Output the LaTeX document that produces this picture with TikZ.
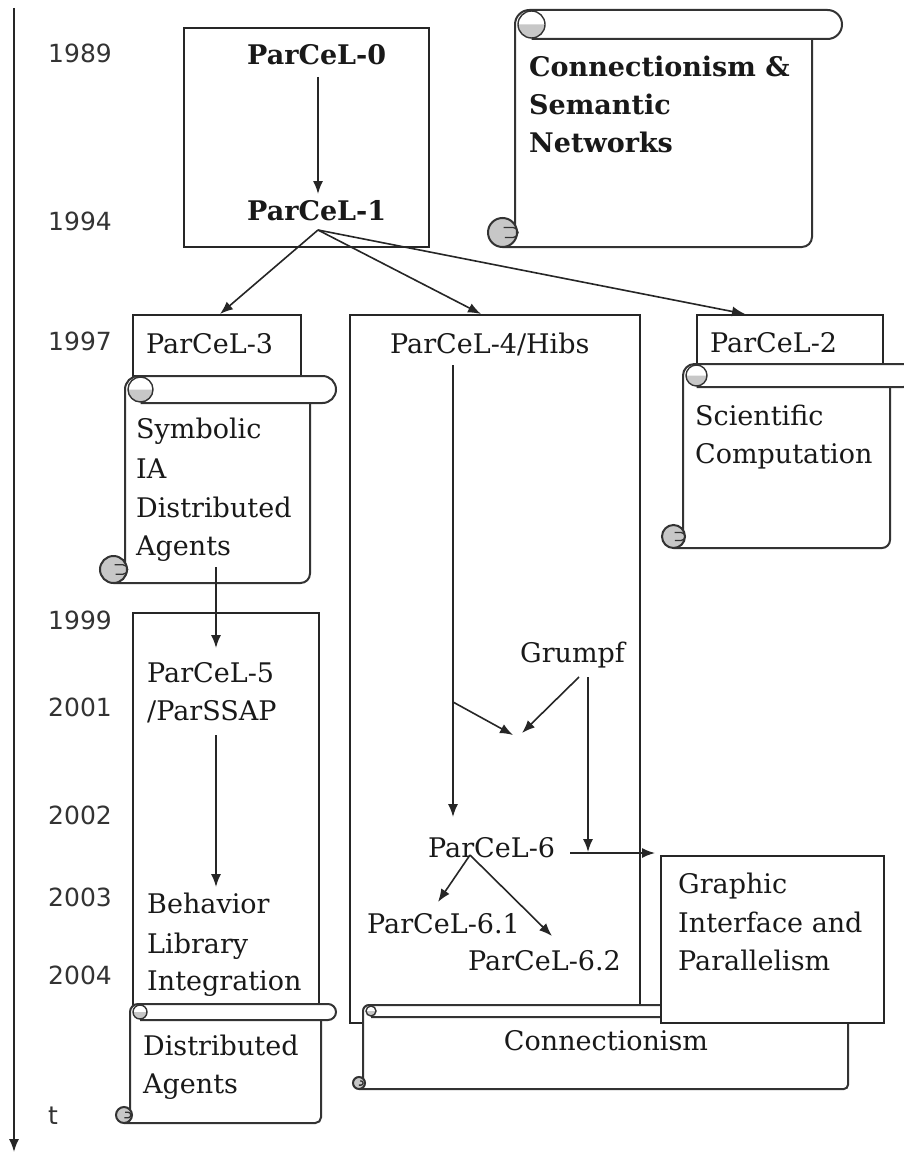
\documentclass[tikz,border=0pt]{standalone}
\usepackage{fontspec}
\setmainfont{DejaVu Serif}
\newfontfamily\yearfont{DejaVu Sans}
\usetikzlibrary{arrows.meta,calc}

\tikzset{
  frame/.style={draw=black!85, line width=1.8pt, fill=white, inner sep=0pt},
  arr/.style={draw=black!85, line width=1.6pt, -{Latex[length=13pt,width=10pt]}},
  lbl/.style={inner sep=0pt, anchor=base west, text=black!90, font=\fontsize{27pt}{39pt}\selectfont},
  lblb/.style={lbl, font=\bfseries\fontsize{27pt}{39pt}\selectfont},
  year/.style={inner sep=0pt, anchor=west, text=black!80, font=\yearfont\fontsize{25pt}{30pt}\selectfont},
  scrl/.style={draw=black!80, line width=2pt},
  curl/.style={fill=black!22},
}

% scroll sheet: #1 left edge, #2 top, #3 right end of the roll, #4 roll height,
% #5 right edge of the sheet, #6 bottom edge
\newcommand{\scrollbox}[6]{%
  \pgfmathsetmacro{\sr}{#4/2}%
  \pgfmathsetmacro{\sk}{0.7*\sr}%
  \pgfmathsetmacro{\sc}{\sr-1}%
  \fill[white] (#1,#2+\sr) rectangle (#5,#6);
  \fill[white, rounded corners=\sr pt] (#1,#2) rectangle (#3,#2+#4);
  \draw[scrl, rounded corners=\sk pt] (#5,#2+#4) -- (#5,#6) -- (#1-\sr+2,#6);
  \draw[scrl, rounded corners=\sr pt] (#1,#6-\sr) -- (#1,#2) -- (#3,#2) -- (#3,#2+#4) -- (#1+\sr+2,#2+#4);
  \fill[curl] (#1+\sr+2+\sc,#2+\sr) arc[start angle=0, end angle=180, radius=\sc] -- cycle;
  \draw[scrl, line width=1.4pt] (#1+\sr+2,#2+\sr) circle[radius=\sc];
  \filldraw[scrl, curl] (#1-\sr+2,#6-\sr) circle[radius=\sr];
  \draw[scrl, line width=1.3pt] (#1-\sr+3,#6-1.35*\sr) -- (#1-2,#6-1.35*\sr)
     arc[start angle=-90, end angle=90, radius=0.35*\sr] -- (#1-0.7*\sr,#6-0.65*\sr);
}

\begin{document}
\begin{tikzpicture}[x=1pt,y=-1pt]
\useasboundingbox (0,0) rectangle (903,1153);
\fill[white] (0,0) rectangle (903,1153);

% time axis
\coordinate (axtop) at (14,8);
\coordinate (axend) at (14,1152);
\draw[arr] (axtop) -- (axend);

% years
\node[year] (y89) at (48,53) {1989};
\node[year] (y94) at (48,221) {1994};
\node[year] (y97) at (48,341) {1997};
\node[year] (y99) at (48,620) {1999};
\node[year] (y01) at (48,707) {2001};
\node[year] (y02) at (48,815) {2002};
\node[year] (y03) at (48,897) {2003};
\node[year] (y04) at (48,975) {2004};
\node[year] (yt)  at (48,1116) {t};

% ParCeL-0 / ParCeL-1
\node[frame, anchor=north west, minimum width=245pt, minimum height=219pt] (f01) at (183,27) {};
\node[lblb] (p0) at (247,65) {ParCeL-0};
\node[lblb] (p1) at (247,220) {ParCeL-1};
\coordinate (p0out) at (318,77);
\coordinate (p1in) at (318,194);
\coordinate (p1out) at (318,230);

% Connectionism & Semantic Networks
\scrollbox{515}{10}{842}{29}{812}{247}
\node[lblb] (cs1) at (529,77) {Connectionism \&};
\node[lblb] (cs2) at (529,115) {Semantic};
\node[lblb] (cs3) at (529,153) {Networks};

% ParCeL-3 and its scroll
\node[frame, anchor=north west, minimum width=168pt, minimum height=61pt] (f3) at (132,314) {};
\node[lbl] (p3) at (146,353) {ParCeL-3};
\coordinate (f3in) at (220,314);
\scrollbox{125}{376}{336}{27}{310}{583}
\node[lbl] (sy1) at (136,438) {Symbolic};
\node[lbl] (sy2) at (136,478) {IA};
\node[lbl] (sy3) at (136,517) {Distributed};
\node[lbl] (sy4) at (136,555) {Agents};
\coordinate (syout) at (216,567);

% ParCeL-5 frame
\node[frame, anchor=north west, minimum width=186pt, minimum height=400pt] (f5) at (132,612) {};
\node[lbl] (p5a) at (147,682) {ParCeL-5};
\node[lbl] (p5b) at (147,720) {/ParSSAP};
\node[lbl] (bl1) at (147,913) {Behavior};
\node[lbl] (bl2) at (147,953) {Library};
\node[lbl] (bl3) at (147,990) {Integration};
\coordinate (p5in) at (216,648);
\coordinate (p5out) at (216,735);
\coordinate (blin) at (216,887);

% Distributed Agents
\scrollbox{130}{1004}{336}{16}{321}{1123}
\node[lbl] (da1) at (143,1055) {Distributed};
\node[lbl] (da2) at (143,1093) {Agents};

% ParCeL-4 frame
\node[frame, anchor=north west, minimum width=290pt, minimum height=708pt] (f4) at (349,314) {};
\node[lbl] (p4) at (390,353) {ParCeL-4/Hibs};
\node[lbl] (gr) at (520,662) {Grumpf};
\node[lbl] (p6) at (428,857) {ParCeL-6};
\node[lbl] (p61) at (367,933) {ParCeL-6.1};
\node[lbl] (p62) at (468,970) {ParCeL-6.2};
\coordinate (f4in) at (481,314);
\coordinate (p4out) at (453,365);
\coordinate (p4br) at (453,702);
\coordinate (merge1) at (513,735);
\coordinate (merge2) at (522,733);
\coordinate (grout1) at (579,677);
\coordinate (grout2) at (588,677);
\coordinate (grdown) at (588,852);
\coordinate (p6in) at (453,817);
\coordinate (p6right) at (570,853);
\coordinate (p6out) at (470,855);
\coordinate (p61in) at (438,902);
\coordinate (p62in) at (552,936);

% ParCeL-2 and its scroll
\node[frame, anchor=north west, minimum width=186pt, minimum height=50pt] (f2) at (696,314) {};
\node[lbl] (p2) at (710,352) {ParCeL-2};
\coordinate (f2in) at (745,314);
\scrollbox{683}{364}{915}{23}{890}{548}
\node[lbl] (sc1) at (695,425) {Scientific};
\node[lbl] (sc2) at (695,463) {Computation};

% Connectionism
\scrollbox{363}{1005}{872}{12}{848}{1089}
\node[lbl, anchor=base] (cn) at (606,1050) {Connectionism};

% Graphic Interface and Parallelism
\node[frame, anchor=north west, minimum width=223pt, minimum height=167pt] (fg) at (660,855) {};
\node[lbl] (gi1) at (678,893) {Graphic};
\node[lbl] (gi2) at (678,932) {Interface and};
\node[lbl] (gi3) at (678,970) {Parallelism};
\coordinate (fgin) at (655,853);

% connectors
\draw[arr] (p0out) -- (p1in);
\draw[arr] (p1out) -- (f3in);
\draw[arr] (p1out) -- (f4in);
\draw[arr] (p1out) -- (f2in);
\draw[arr] (syout) -- (p5in);
\draw[arr] (p5out) -- (blin);
\draw[arr] (p4out) -- (p6in);
\draw[arr] (p4br) -- (merge1);
\draw[arr] (grout1) -- (merge2);
\draw[arr] (grout2) -- (grdown);
\draw[arr] (p6right) -- (fgin);
\draw[arr] (p6out) -- (p61in);
\draw[arr] (p6out) -- (p62in);
\end{tikzpicture}
\end{document}
